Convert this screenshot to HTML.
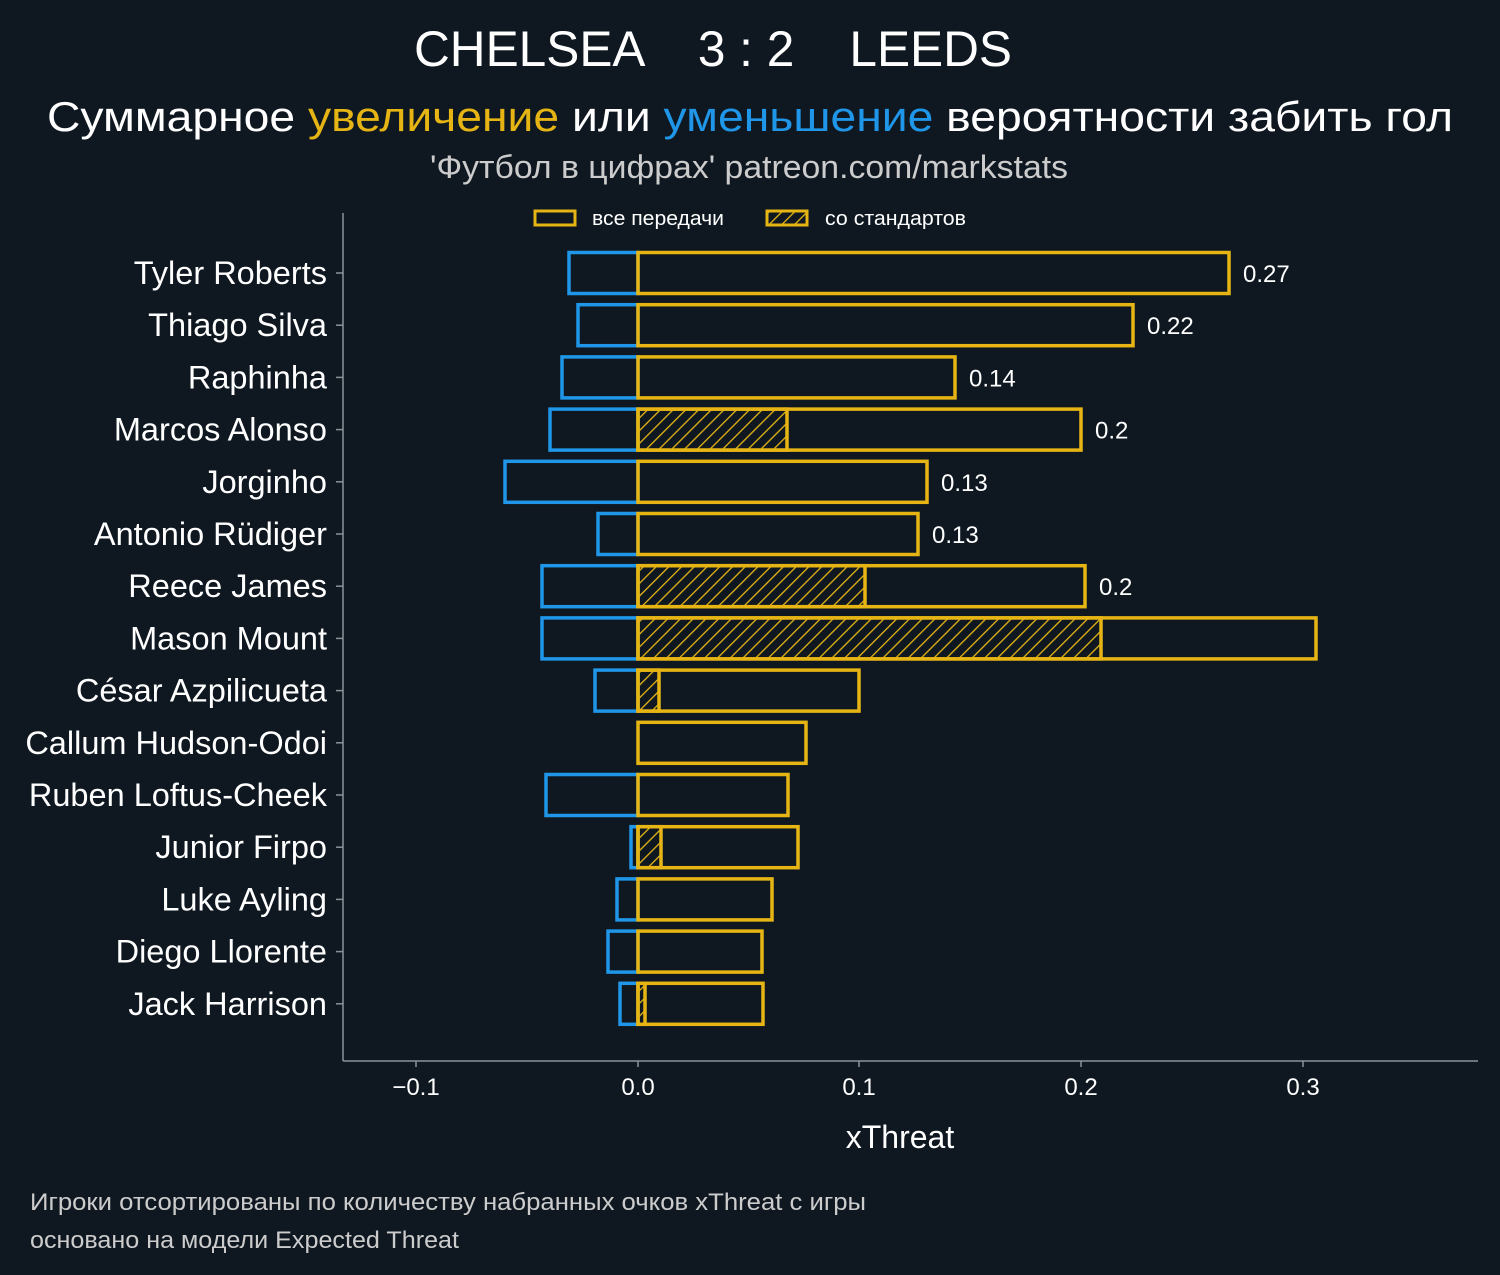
<!DOCTYPE html>
<html><head><meta charset="utf-8"><style>
html,body{margin:0;padding:0;background:#0f1821;}
svg{display:block;font-family:"Liberation Sans","DejaVu Sans",sans-serif;}
</style></head><body>
<svg width="1500" height="1275" viewBox="0 0 1500 1275" xmlns="http://www.w3.org/2000/svg">
<defs>
<pattern id="h" patternUnits="userSpaceOnUse" width="9" height="9" patternTransform="rotate(45)">
<line x1="0" y1="0" x2="0" y2="9" stroke="#e6b514" stroke-width="2.6"/>
</pattern>
</defs>
<rect width="1500" height="1275" fill="#0f1821"/>
<text x="713" y="66" font-size="50" fill="#fff" text-anchor="middle" textLength="598" lengthAdjust="spacingAndGlyphs" xml:space="preserve">CHELSEA    3 : 2    LEEDS</text>
<text x="47" y="131" font-size="42" fill="#fff" textLength="1406" lengthAdjust="spacingAndGlyphs">Суммарное <tspan fill="#e6b514">увеличение</tspan> или <tspan fill="#1f96e8">уменьшение</tspan> вероятности забить гол</text>
<text x="430" y="178" font-size="32" fill="#cccccc" textLength="638" lengthAdjust="spacingAndGlyphs">'Футбол в цифрах' patreon.com/markstats</text>

<rect x="535" y="211" width="40" height="14" fill="none" stroke="#e6b514" stroke-width="3"/>
<text x="592" y="225" font-size="20" fill="#fff" textLength="132" lengthAdjust="spacingAndGlyphs">все передачи</text>
<rect x="767" y="211" width="40" height="14" fill="url(#h)" stroke="#e6b514" stroke-width="3"/>
<text x="825" y="225" font-size="20" fill="#fff" textLength="141" lengthAdjust="spacingAndGlyphs">со стандартов</text>

<line x1="343" y1="213" x2="343" y2="1061" stroke="#8a9298" stroke-width="1.5"/>
<line x1="343" y1="1061" x2="1478" y2="1061" stroke="#8a9298" stroke-width="1.5"/>
<g stroke="#8a9298" stroke-width="1.5">
<line x1="416" y1="1061" x2="416" y2="1067"/><line x1="638" y1="1061" x2="638" y2="1067"/><line x1="859" y1="1061" x2="859" y2="1067"/><line x1="1081" y1="1061" x2="1081" y2="1067"/><line x1="1303" y1="1061" x2="1303" y2="1067"/>
</g>
<g font-size="24" fill="#fff" text-anchor="middle">
<text x="416" y="1095">−0.1</text><text x="638" y="1095">0.0</text><text x="859" y="1095">0.1</text><text x="1081" y="1095">0.2</text><text x="1303" y="1095">0.3</text>
</g>
<text x="900" y="1148" font-size="32" fill="#fff" text-anchor="middle">xThreat</text>

<g id="bars" stroke-width="3.5" fill="none"></g>
<g id="names" font-size="32.5" fill="#fff" text-anchor="end"></g>
<g id="vals" font-size="24" fill="#fff"></g>

<text x="30" y="1210" font-size="24" fill="#cccccc" textLength="836" lengthAdjust="spacingAndGlyphs">Игроки отсортированы по количеству набранных очков xThreat с игры</text>
<text x="30" y="1248" font-size="24" fill="#cccccc" textLength="429" lengthAdjust="spacingAndGlyphs">основано на модели Expected Threat</text>
</svg>
<script>
var d=[["Tyler Roberts",569,1229,0,"0.27"],["Thiago Silva",578,1133,0,"0.22"],["Raphinha",562,955,0,"0.14"],["Marcos Alonso",550,1081,787,"0.2"],["Jorginho",505,927,0,"0.13"],["Antonio Rüdiger",598,918,0,"0.13"],["Reece James",542,1085,865,"0.2"],["Mason Mount",542,1316,1101,""],["César Azpilicueta",595,859,659,""],["Callum Hudson-Odoi",638,806,0,""],["Ruben Loftus-Cheek",546,788,0,""],["Junior Firpo",631,798,661,""],["Luke Ayling",617,772,0,""],["Diego Llorente",608,762,0,""],["Jack Harrison",620,763,645,""]];
var ns="http://www.w3.org/2000/svg";
function el(p,t,a,tx){var e=document.createElementNS(ns,t);for(var k in a)e.setAttribute(k,a[k]);if(tx)e.textContent=tx;document.getElementById(p).appendChild(e);}
d.forEach(function(r,i){var c=273+52.2*i,y=c-20.5,h=41;
if(r[1]<638)el("bars","rect",{x:r[1],y:y,width:638-r[1],height:h,stroke:"#1f96e8"});
if(r[3])el("bars","rect",{x:638,y:y,width:r[3]-638,height:h,stroke:"#e6b514",fill:"url(#h)"});
el("bars","rect",{x:638,y:y,width:r[2]-638,height:h,stroke:"#e6b514"});
el("bars","line",{x1:336,y1:c,x2:343,y2:c,stroke:"#8a9298","stroke-width":1.5});
el("names","text",{x:327,y:c+11},r[0]);
if(r[4])el("vals","text",{x:r[2]+14,y:c+9},r[4]);
});
</script>
</body></html>
